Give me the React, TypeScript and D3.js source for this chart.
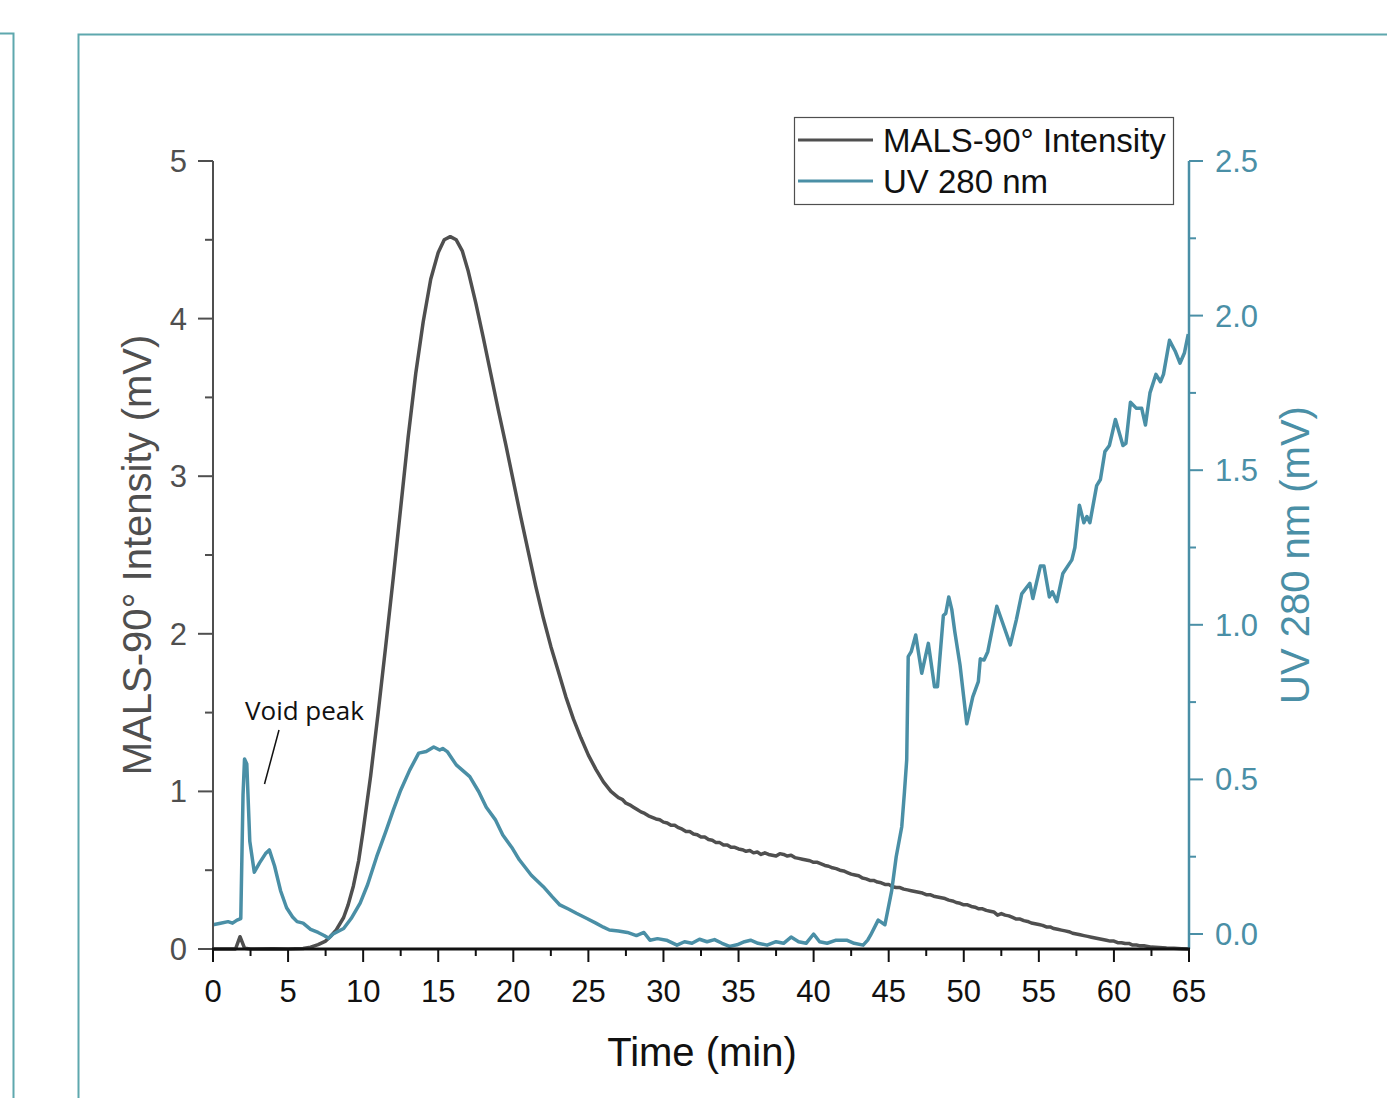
import React from 'react';
import * as d3 from 'd3';

// [time (min), MALS-90° intensity (mV)]
const malsTrace: [number, number][] = [
  [0, 0], [1.5, 0], [1.8, 0.078], [2.1, 0.005], [2.5, 0], [4, 0.002], [5, 0], [6, 0.003],
  [6.5, 0.012], [7, 0.028], [7.5, 0.05], [7.8, 0.078], [8.2, 0.12], [8.7, 0.2], [9, 0.28],
  [9.35, 0.4], [9.7, 0.56], [10, 0.75], [10.5, 1.1], [11, 1.5], [11.5, 1.92], [12, 2.35],
  [12.5, 2.8], [13, 3.25], [13.5, 3.65], [14, 3.98], [14.5, 4.25], [15, 4.42], [15.4, 4.5],
  [15.8, 4.52], [16.2, 4.5], [16.6, 4.43], [17, 4.3], [17.5, 4.1], [18, 3.88], [18.5, 3.65],
  [19, 3.42], [19.5, 3.2], [20, 2.97], [20.5, 2.74], [21, 2.52], [21.5, 2.3], [22, 2.1],
  [22.5, 1.92], [23, 1.76], [23.5, 1.6], [24, 1.46], [24.5, 1.34], [25, 1.23], [25.5, 1.14],
  [26, 1.06], [26.5, 1.0], [27, 0.96], [27.25, 0.95], [27.5, 0.925], [27.75, 0.915], [28, 0.9],
  [28.25, 0.885], [28.5, 0.87], [28.75, 0.86], [29, 0.845], [29.25, 0.835], [29.5, 0.825],
  [29.75, 0.82], [30, 0.805], [30.25, 0.8], [30.5, 0.785], [30.75, 0.785], [31, 0.77],
  [31.25, 0.76], [31.5, 0.745], [31.75, 0.745], [32, 0.73], [32.25, 0.725], [32.5, 0.71],
  [32.75, 0.71], [33, 0.695], [33.25, 0.69], [33.5, 0.675], [33.75, 0.675], [34, 0.66],
  [34.25, 0.66], [34.5, 0.645], [34.75, 0.645], [35, 0.635], [35.25, 0.63], [35.5, 0.62],
  [35.75, 0.625], [36, 0.61], [36.25, 0.615], [36.5, 0.6], [36.75, 0.61], [37, 0.6],
  [37.25, 0.595], [37.5, 0.59], [37.75, 0.605], [38, 0.6], [38.25, 0.59], [38.5, 0.595],
  [38.75, 0.58], [39, 0.575], [39.25, 0.57], [39.5, 0.565], [39.75, 0.56], [40, 0.55],
  [40.25, 0.55], [40.5, 0.54], [40.75, 0.53], [41, 0.525], [41.25, 0.515], [41.5, 0.51],
  [41.75, 0.5], [42, 0.495], [42.25, 0.485], [42.5, 0.475], [42.75, 0.47], [43, 0.465],
  [43.25, 0.45], [43.5, 0.445], [43.75, 0.435], [44, 0.435], [44.25, 0.425], [44.5, 0.42],
  [44.75, 0.41], [45, 0.41], [45.25, 0.395], [45.5, 0.39], [45.75, 0.39], [46, 0.38],
  [46.25, 0.375], [46.5, 0.37], [46.75, 0.365], [47, 0.36], [47.25, 0.355], [47.5, 0.345],
  [47.75, 0.345], [48, 0.335], [48.25, 0.33], [48.5, 0.325], [48.75, 0.32], [49, 0.31],
  [49.25, 0.305], [49.5, 0.295], [49.75, 0.29], [50, 0.28], [50.25, 0.28], [50.5, 0.27],
  [50.75, 0.265], [51, 0.255], [51.25, 0.255], [51.5, 0.245], [51.75, 0.24], [52, 0.235],
  [52.25, 0.215], [52.5, 0.225], [52.75, 0.215], [53, 0.21], [53.25, 0.2], [53.5, 0.19],
  [53.75, 0.19], [54, 0.18], [54.25, 0.175], [54.5, 0.165], [54.75, 0.16], [55, 0.155],
  [55.25, 0.15], [55.5, 0.14], [55.75, 0.14], [56, 0.13], [56.25, 0.125], [56.5, 0.12],
  [56.75, 0.115], [57, 0.11], [57.25, 0.1], [57.5, 0.095], [57.75, 0.09], [58, 0.085],
  [58.25, 0.08], [58.5, 0.075], [58.75, 0.07], [59, 0.065], [59.25, 0.06], [59.5, 0.055],
  [59.75, 0.05], [60, 0.05], [60.25, 0.04], [60.5, 0.04], [60.75, 0.035], [61, 0.035],
  [61.25, 0.025], [61.5, 0.025], [61.75, 0.02], [62, 0.02], [62.5, 0.012], [63, 0.01],
  [63.5, 0.006], [64, 0.005], [64.5, 0.002], [65, 0],
];

// [time (min), UV 280 nm (mV)]
const uvTrace: [number, number][] = [
  [0, 0.03], [0.5, 0.035], [1, 0.04], [1.3, 0.035], [1.6, 0.045], [1.85, 0.05], [2, 0.45],
  [2.1, 0.566], [2.25, 0.55], [2.45, 0.3], [2.75, 0.2], [3.1, 0.23], [3.5, 0.26], [3.75, 0.272],
  [4.1, 0.22], [4.5, 0.14], [4.9, 0.085], [5.3, 0.055], [5.6, 0.04], [6, 0.035], [6.5, 0.015],
  [7, 0.005], [7.4, -0.005], [7.7, -0.014], [8, 0], [8.7, 0.018], [9.2, 0.05], [9.8, 0.1],
  [10.3, 0.16], [10.9, 0.25], [11.5, 0.33], [12, 0.4], [12.5, 0.465], [13.1, 0.53], [13.7, 0.585],
  [14.2, 0.59], [14.7, 0.605], [15.1, 0.595], [15.3, 0.6], [15.6, 0.59], [16.2, 0.547],
  [17.1, 0.509], [17.7, 0.46], [18.2, 0.41], [18.8, 0.37], [19.3, 0.32], [19.9, 0.28],
  [20.4, 0.24], [21.2, 0.19], [22, 0.153], [22.6, 0.12], [23.1, 0.094], [23.7, 0.08],
  [24.2, 0.067], [24.9, 0.05], [25.5, 0.035], [26, 0.022], [26.4, 0.013], [27, 0.01],
  [27.6, 0.005], [28.2, -0.005], [28.7, 0.005], [29.1, -0.02], [29.6, -0.015], [30.2, -0.02],
  [30.9, -0.036], [31.4, -0.025], [31.9, -0.03], [32.4, -0.017], [32.9, -0.025], [33.4, -0.018],
  [33.9, -0.03], [34.4, -0.04], [34.9, -0.035], [35.4, -0.025], [35.8, -0.02], [36.3, -0.03],
  [36.9, -0.036], [37.5, -0.025], [38, -0.03], [38.5, -0.01], [39, -0.025], [39.5, -0.03],
  [40, 0], [40.4, -0.025], [40.9, -0.03], [41.5, -0.02], [42.2, -0.02], [42.7, -0.03],
  [43.3, -0.036], [43.6, -0.02], [43.8, -0.003], [44.3, 0.045], [44.75, 0.03], [45.2, 0.14],
  [45.5, 0.25], [45.87, 0.347], [46.05, 0.46], [46.2, 0.563], [46.3, 0.897], [46.5, 0.913],
  [46.8, 0.967], [47.2, 0.843], [47.64, 0.94], [48.05, 0.8], [48.25, 0.8], [48.64, 1.03],
  [48.8, 1.037], [49, 1.09], [49.2, 1.05], [49.4, 0.978], [49.75, 0.87], [50.2, 0.68],
  [50.6, 0.767], [50.97, 0.816], [51.1, 0.89], [51.35, 0.886], [51.6, 0.913], [52.2, 1.06],
  [53.1, 0.935], [53.5, 1.016], [53.86, 1.1], [54.4, 1.134], [54.6, 1.085], [55.1, 1.19],
  [55.34, 1.19], [55.7, 1.09], [55.9, 1.107], [56.2, 1.075], [56.6, 1.166], [57.2, 1.21],
  [57.4, 1.25], [57.7, 1.387], [58, 1.33], [58.2, 1.35], [58.4, 1.33], [58.85, 1.45],
  [59.1, 1.47], [59.4, 1.56], [59.7, 1.58], [60.1, 1.664], [60.6, 1.58], [60.8, 1.587],
  [61.1, 1.72], [61.5, 1.7], [61.85, 1.7], [62.1, 1.646], [62.4, 1.75], [62.8, 1.81],
  [63.1, 1.786], [63.3, 1.81], [63.7, 1.92], [64.1, 1.883], [64.4, 1.846], [64.7, 1.88],
  [64.95, 1.94],
];

const timeTicks = [0, 5, 10, 15, 20, 25, 30, 35, 40, 45, 50, 55, 60, 65];
const malsTicks = [0, 1, 2, 3, 4, 5];
const uvTicks = [0, 0.5, 1.0, 1.5, 2.0, 2.5];

const seriesNames = ['MALS-90° Intensity', 'UV 280 nm'];

const GRAY = '#4f4f4f';
const TEAL = '#4a8fa6';
const FRAME = '#5ea8ae';
const FONT = '"Liberation Sans", Arial, sans-serif';

export default function App() {
  const width = 1387;
  const height = 1098;
  const left = 213, right = 1189;

  const x = d3.scaleLinear().domain([0, 65]).range([left, right]);
  const yL = d3.scaleLinear().domain([0, 5]).range([949, 161]);
  const yR = d3.scaleLinear().domain([0, 2.5]).range([934, 161]);
  const bottom = yL(0);

  const malsLine = d3.line<[number, number]>().x(d => x(d[0])).y(d => yL(d[1]));
  const uvLine = d3.line<[number, number]>().x(d => x(d[0])).y(d => yR(d[1]));

  const minorTime = d3.range(2.5, 65, 5);
  const minorMals = d3.range(0.5, 5, 1);
  const minorUv = d3.range(0.25, 2.5, 0.5);

  return (
    <svg width={width} height={height} style={{ position: 'absolute', left: 0, top: 0, background: '#fff' }}
      fontFamily={FONT}>
      {/* panel frames */}
      <path d={`M0,33.5 H13.5 V${height}`} fill="none" stroke={FRAME} strokeWidth={2} />
      <path d={`M78.5,${height} V34.5 H${width}`} fill="none" stroke={FRAME} strokeWidth={2} />

      {/* traces */}
      <path d={malsLine(malsTrace) ?? ''} fill="none" stroke={GRAY} strokeWidth={3.5} strokeLinejoin="round" />
      <path d={uvLine(uvTrace) ?? ''} fill="none" stroke={TEAL} strokeWidth={3.5} strokeLinejoin="round" />

      {/* left axis */}
      <line x1={left} x2={left} y1={yL(5)} y2={bottom} stroke={GRAY} strokeWidth={2} />
      {malsTicks.map(t => (
        <g key={'ml' + t}>
          <line x1={left - 15} x2={left} y1={yL(t)} y2={yL(t)} stroke={GRAY} strokeWidth={2} />
          <text x={left - 26} y={yL(t) + 11} textAnchor="end" fontSize={31} fill={GRAY}>{t}</text>
        </g>
      ))}
      {minorMals.map(t => (
        <line key={'mm' + t} x1={left - 8} x2={left} y1={yL(t)} y2={yL(t)} stroke={GRAY} strokeWidth={2} />
      ))}
      <text transform={`translate(151,555) rotate(-90)`} textAnchor="middle" fontSize={40} fill={GRAY}>
        MALS-90° Intensity (mV)
      </text>

      {/* right axis */}
      <line x1={right} x2={right} y1={yR(2.5)} y2={bottom} stroke={TEAL} strokeWidth={2.5} />
      {uvTicks.map(t => (
        <g key={'ul' + t}>
          <line x1={right} x2={right + 14} y1={yR(t)} y2={yR(t)} stroke={TEAL} strokeWidth={2} />
          <text x={right + 26} y={yR(t) + 11} fontSize={31} fill={TEAL}>{t.toFixed(1)}</text>
        </g>
      ))}
      {minorUv.map(t => (
        <line key={'um' + t} x1={right} x2={right + 7} y1={yR(t)} y2={yR(t)} stroke={TEAL} strokeWidth={2} />
      ))}
      <text transform={`translate(1309,555) rotate(-90)`} textAnchor="middle" fontSize={40} fill={TEAL}>
        UV 280 nm (mV)
      </text>

      {/* bottom axis */}
      <line x1={left - 1} x2={right + 1} y1={bottom} y2={bottom} stroke="#111" strokeWidth={3} />
      {timeTicks.map(t => (
        <g key={'t' + t}>
          <line x1={x(t)} x2={x(t)} y1={bottom} y2={bottom + 13} stroke="#111" strokeWidth={2} />
          <text x={x(t)} y={bottom + 53} textAnchor="middle" fontSize={31} fill="#111">{t}</text>
        </g>
      ))}
      {minorTime.map(t => (
        <line key={'tm' + t} x1={x(t)} x2={x(t)} y1={bottom} y2={bottom + 7} stroke="#111" strokeWidth={2} />
      ))}
      <text x={702} y={1066} textAnchor="middle" fontSize={40} fill="#111">Time (min)</text>

      {/* annotation */}
      <text x={245} y={720} fontSize={26} fontFamily='"Open Sans", sans-serif' fill="#111">Void peak</text>
      <line x1={279} y1={730} x2={264.5} y2={784} stroke="#111" strokeWidth={1.5} />

      {/* legend */}
      <rect x={794.5} y={117.5} width={379} height={87} fill="#fff" stroke={GRAY} strokeWidth={1.2} />
      {seriesNames.map((name, i) => (
        <g key={name} transform={`translate(0,${140 + i * 41})`}>
          <line x1={798} x2={873} y1={0} y2={0} stroke={i === 0 ? GRAY : TEAL} strokeWidth={3} />
          <text x={883} y={12} fontSize={33} fill="#111">{name}</text>
        </g>
      ))}
    </svg>
  );
}
